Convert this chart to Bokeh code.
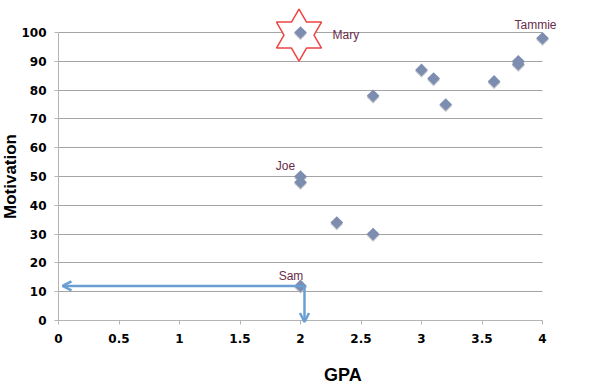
import math
from bokeh.plotting import figure
from bokeh.models import Range1d, FixedTicker, Label, Arrow, OpenHead
from bokeh.embed import file_html
from bokeh.resources import INLINE

# data
gpa = [2.0, 4.0, 2.6, 3.0, 3.1, 3.2, 3.6, 3.8, 3.8, 2.0, 2.0, 2.3, 2.6, 2.0]
motivation = [100, 98, 78, 87, 84, 75, 83, 89, 90, 50, 48, 34, 30, 12]
names = ["Mary", "Tammie", "Joe", "Sam"]
name_gpa = [2.0, 4.0, 2.0, 2.0]
name_mot = [100, 98, 50, 12]
x_ticks = [0, 0.5, 1, 1.5, 2, 2.5, 3, 3.5, 4]
y_ticks = [0, 10, 20, 30, 40, 50, 60, 70, 80, 90, 100]

# layout geometry (pixels)
W, H = 611, 390
AXIS_X_PX = 58     # where x = 0 sits from the left
AXIS_Y_PX = 320    # where y = 0 sits from the top
PX_X, PX_Y = 121.0, 2.88   # pixels per data unit

p = figure(width=W, height=H, output_backend="svg", toolbar_location=None,
           x_range=Range1d(-AXIS_X_PX / PX_X, (W - AXIS_X_PX) / PX_X),
           y_range=Range1d(-(H - AXIS_Y_PX) / PX_Y, AXIS_Y_PX / PX_Y),
           min_border_left=0, min_border_top=0, min_border_right=0, min_border_bottom=0)
p.outline_line_color = None
p.background_fill_color = "white"

p.xgrid.visible = False
p.ygrid.grid_line_color = "#a4a4a4"
p.ygrid.grid_line_width = 1
p.ygrid.cross_bounds = (0, 4)
p.xaxis.fixed_location = 0
p.yaxis.fixed_location = 0
p.xaxis.ticker = FixedTicker(ticks=x_ticks)
p.yaxis.ticker = FixedTicker(ticks=y_ticks)
p.xaxis.bounds = (0, 4)
p.yaxis.bounds = (0, 100)
p.xaxis.major_label_overrides = {0: "0", 1: "1", 2: "2", 3: "3", 4: "4"}
for ax in (p.xaxis, p.yaxis):
    ax.axis_line_color = "#b4b4b4"
    ax.major_tick_line_color = "#b4b4b4"
    ax.minor_tick_line_color = None
    ax.major_tick_in = 0
    ax.major_tick_out = 4
    ax.major_label_text_font = "DejaVu Sans"
    ax.major_label_text_font_style = "bold"
    ax.major_label_text_font_size = "12px"
    ax.major_label_text_color = "black"
    ax.axis_label_text_font = "Liberation Sans"
    ax.axis_label_text_font_style = "bold"
    ax.axis_label_text_color = "black"
p.yaxis.axis_label = "Motivation"
p.yaxis.axis_label_text_font_size = "17px"
p.xaxis.major_label_standoff = 9
p.yaxis.major_label_standoff = 8
p.yaxis.axis_label_standoff = -2

# x axis title placed under the axis, right of centre as in the original
p.add_layout(Label(x=2.35, y=0, text="GPA", x_offset=0, y_offset=-54, text_align="center",
                   text_baseline="alphabetic", text_font="Liberation Sans", text_font_style="bold",
                   text_font_size="18px", text_color="black"))

# six-pointed star around Mary
R = 26
r_in = R / math.sqrt(3)
cx, cy = name_gpa[0], name_mot[0]
xs, ys = [], []
for k in range(12):
    ang = math.radians(90 + 30 * k)
    rr = R if k % 2 == 0 else r_in
    xs.append(cx + (-1.5 + rr * math.cos(ang)) / PX_X)
    ys.append(cy + (-2.5 + rr * math.sin(ang)) / PX_Y)
p.patch(xs, ys, fill_color="white", line_color="#ee4444", line_width=1.5)

# shadow + points
p.scatter(gpa, [m - 1.5 / PX_Y for m in motivation], marker="square", size=9, angle=math.pi / 4,
          fill_color="#b8b8bc", line_color=None, fill_alpha=0.7)
p.scatter(gpa, motivation, marker="square", size=9, angle=math.pi / 4,
          fill_color="#7d8db0", line_color=None)

# arrows from Sam
sam_x, sam_y = name_gpa[3], name_mot[3]
blue = "#6b9fd3"
corner_x = sam_x + 4 / PX_X
corner_y = sam_y
head = dict(size=9, line_color=blue, line_width=2.5)
p.add_layout(Arrow(end=OpenHead(**head), x_start=corner_x, y_start=corner_y,
                   x_end=4 / PX_X, y_end=corner_y, line_color=blue, line_width=2.5))
p.add_layout(Arrow(end=OpenHead(**head), x_start=corner_x, y_start=corner_y,
                   x_end=corner_x, y_end=-1.5 / PX_Y, line_color=blue, line_width=2.5))

# name labels (offsets in pixels from the point)
offsets = [(32, -2, "left"), (-7, 13, "center"), (-15, 11, "center"), (-9.5, 10, "center")]
for n, gx, my, (dx, dy, al) in zip(names, name_gpa, name_mot, offsets):
    p.add_layout(Label(x=gx, y=my, text=n, x_offset=dx, y_offset=dy, text_align=al,
                       text_baseline="alphabetic",
                       text_font="Liberation Sans", text_font_size="12px", text_color="#6a2c48"))

open("out.html", "w").write(file_html(p, INLINE))
